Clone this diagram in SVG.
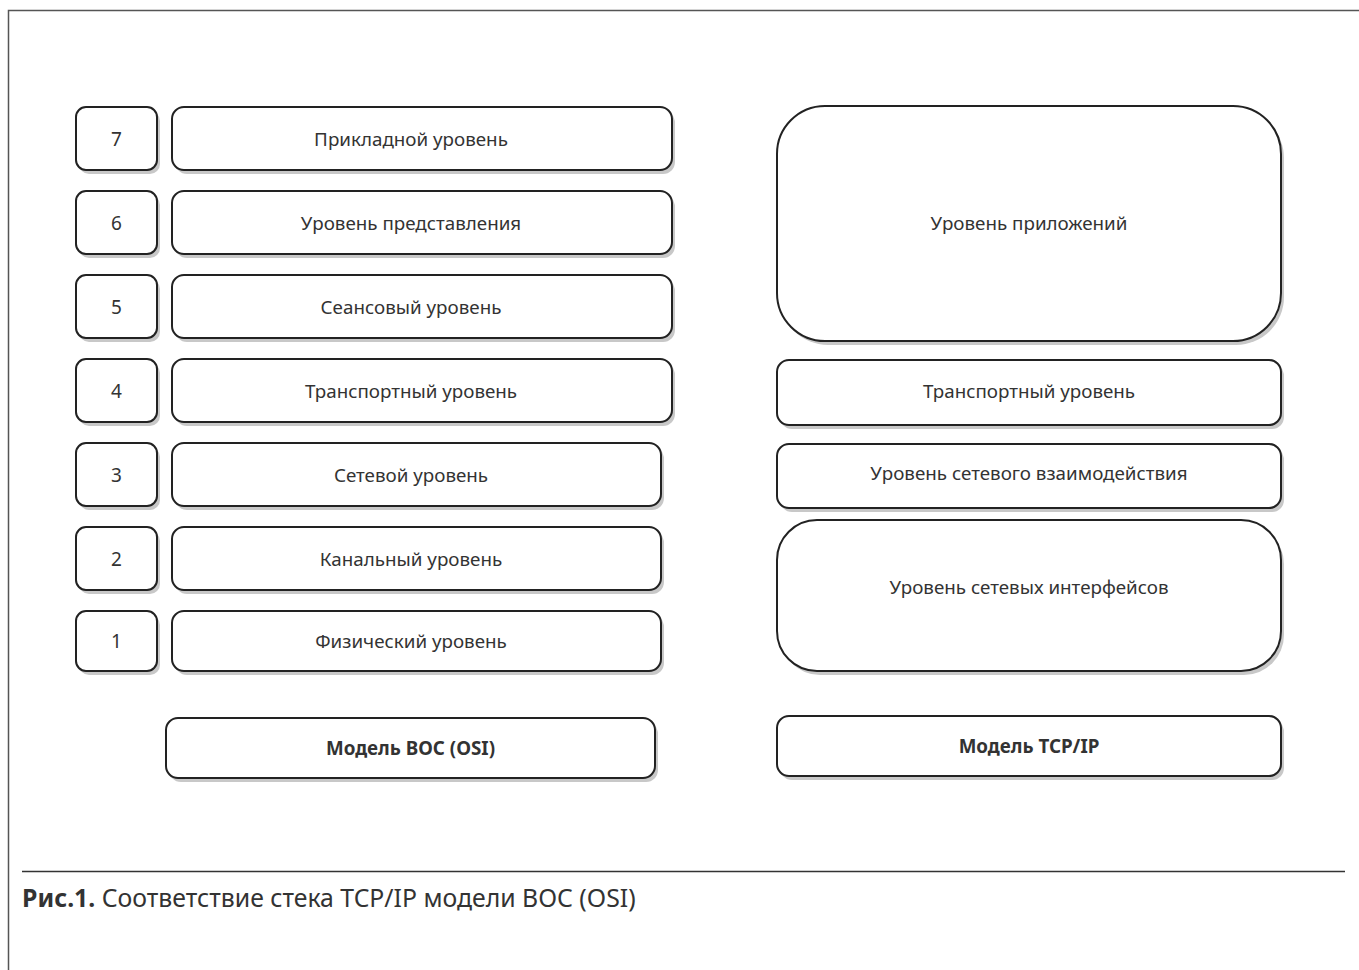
<svg xmlns="http://www.w3.org/2000/svg" width="1359" height="970" viewBox="0 0 1359 970">
<style>
.b{fill:#fff;stroke:#222;stroke-width:2}
.s{fill:#c8c8c8;stroke:none}
.t{font-family:"Noto Sans","Open Sans",sans-serif;font-size:18.8px;fill:#333;text-anchor:middle;dominant-baseline:central}
.bt{font-weight:bold}
.t.n{font-size:19px}
</style>
<rect width="1359" height="970" fill="#fff"/>
<path d="M8.5 970V10.5H1359" fill="none" stroke="#555" stroke-width="1.5"/>
<g id="n7"><rect class="s" x="79" y="111" width="81" height="63" rx="10"/><rect class="b" x="76" y="107" width="81" height="63" rx="10"/><text class="t n" x="116.5" y="138.5">7</text></g>
<g id="n6"><rect class="s" x="79" y="195" width="81" height="63" rx="10"/><rect class="b" x="76" y="191" width="81" height="63" rx="10"/><text class="t n" x="116.5" y="222.5">6</text></g>
<g id="n5"><rect class="s" x="79" y="279" width="81" height="63" rx="10"/><rect class="b" x="76" y="275" width="81" height="63" rx="10"/><text class="t n" x="116.5" y="306.5">5</text></g>
<g id="n4"><rect class="s" x="79" y="363" width="81" height="63" rx="10"/><rect class="b" x="76" y="359" width="81" height="63" rx="10"/><text class="t n" x="116.5" y="390.5">4</text></g>
<g id="n3"><rect class="s" x="79" y="447" width="81" height="63" rx="10"/><rect class="b" x="76" y="443" width="81" height="63" rx="10"/><text class="t n" x="116.5" y="474.5">3</text></g>
<g id="n2"><rect class="s" x="79" y="531" width="81" height="63" rx="10"/><rect class="b" x="76" y="527" width="81" height="63" rx="10"/><text class="t n" x="116.5" y="558.5">2</text></g>
<g id="n1"><rect class="s" x="79" y="615" width="81" height="60" rx="10"/><rect class="b" x="76" y="611" width="81" height="60" rx="10"/><text class="t n" x="116.5" y="641">1</text></g>

<g id="l7"><rect class="s" x="175" y="111" width="500" height="63" rx="12"/><rect class="b" x="172" y="107" width="500" height="63" rx="12"/><text class="t" x="411" y="138.5">Прикладной уровень</text></g>
<g id="l6"><rect class="s" x="175" y="195" width="500" height="63" rx="12"/><rect class="b" x="172" y="191" width="500" height="63" rx="12"/><text class="t" x="411" y="222.5">Уровень представления</text></g>
<g id="l5"><rect class="s" x="175" y="279" width="500" height="63" rx="12"/><rect class="b" x="172" y="275" width="500" height="63" rx="12"/><text class="t" x="411" y="306.5">Сеансовый уровень</text></g>
<g id="l4"><rect class="s" x="175" y="363" width="500" height="63" rx="12"/><rect class="b" x="172" y="359" width="500" height="63" rx="12"/><text class="t" x="411" y="390.5">Транспортный уровень</text></g>
<g id="l3"><rect class="s" x="175" y="447" width="489" height="63" rx="12"/><rect class="b" x="172" y="443" width="489" height="63" rx="12"/><text class="t" x="411" y="474.5">Сетевой уровень</text></g>
<g id="l2"><rect class="s" x="175" y="531" width="489" height="63" rx="12"/><rect class="b" x="172" y="527" width="489" height="63" rx="12"/><text class="t" x="411" y="558.5">Канальный уровень</text></g>
<g id="l1"><rect class="s" x="175" y="615" width="489" height="60" rx="12"/><rect class="b" x="172" y="611" width="489" height="60" rx="12"/><text class="t" x="411" y="641">Физический уровень</text></g>

<g id="osi"><rect class="s" x="169" y="722" width="489" height="60" rx="12"/><rect class="b" x="166" y="718" width="489" height="60" rx="12"/><text class="t bt" x="410.5" y="748">Модель ВОС (OSI)</text></g>

<g id="app"><rect class="s" x="780" y="110" width="504" height="235" rx="48"/><rect class="b" x="777" y="106" width="504" height="235" rx="48"/><text class="t" x="1029" y="223">Уровень приложений</text></g>
<g id="tr"><rect class="s" x="780" y="364" width="504" height="65" rx="12"/><rect class="b" x="777" y="360" width="504" height="65" rx="12"/><text class="t" x="1029" y="391">Транспортный уровень</text></g>
<g id="net"><rect class="s" x="780" y="448" width="504" height="64" rx="12"/><rect class="b" x="777" y="444" width="504" height="64" rx="12"/><text class="t" x="1029" y="473">Уровень сетевого взаимодействия</text></g>
<g id="if"><rect class="s" x="780" y="524" width="504" height="151" rx="40"/><rect class="b" x="777" y="520" width="504" height="151" rx="40"/><text class="t" x="1029" y="587">Уровень сетевых интерфейсов</text></g>
<g id="tcp"><rect class="s" x="780" y="720" width="504" height="60" rx="12"/><rect class="b" x="777" y="716" width="504" height="60" rx="12"/><text class="t bt" x="1029" y="746">Модель TCP/IP</text></g>

<g id="connectors"></g>
<line x1="22" y1="871.5" x2="1345" y2="871.5" stroke="#333" stroke-width="1.5"/>
<text x="22" y="907" font-family="'Noto Sans','Open Sans',sans-serif" font-size="24.8" fill="#333"><tspan font-weight="bold">Рис.1.</tspan> Соответствие стека TCP/IP модели ВОС (OSI)</text>
</svg>
